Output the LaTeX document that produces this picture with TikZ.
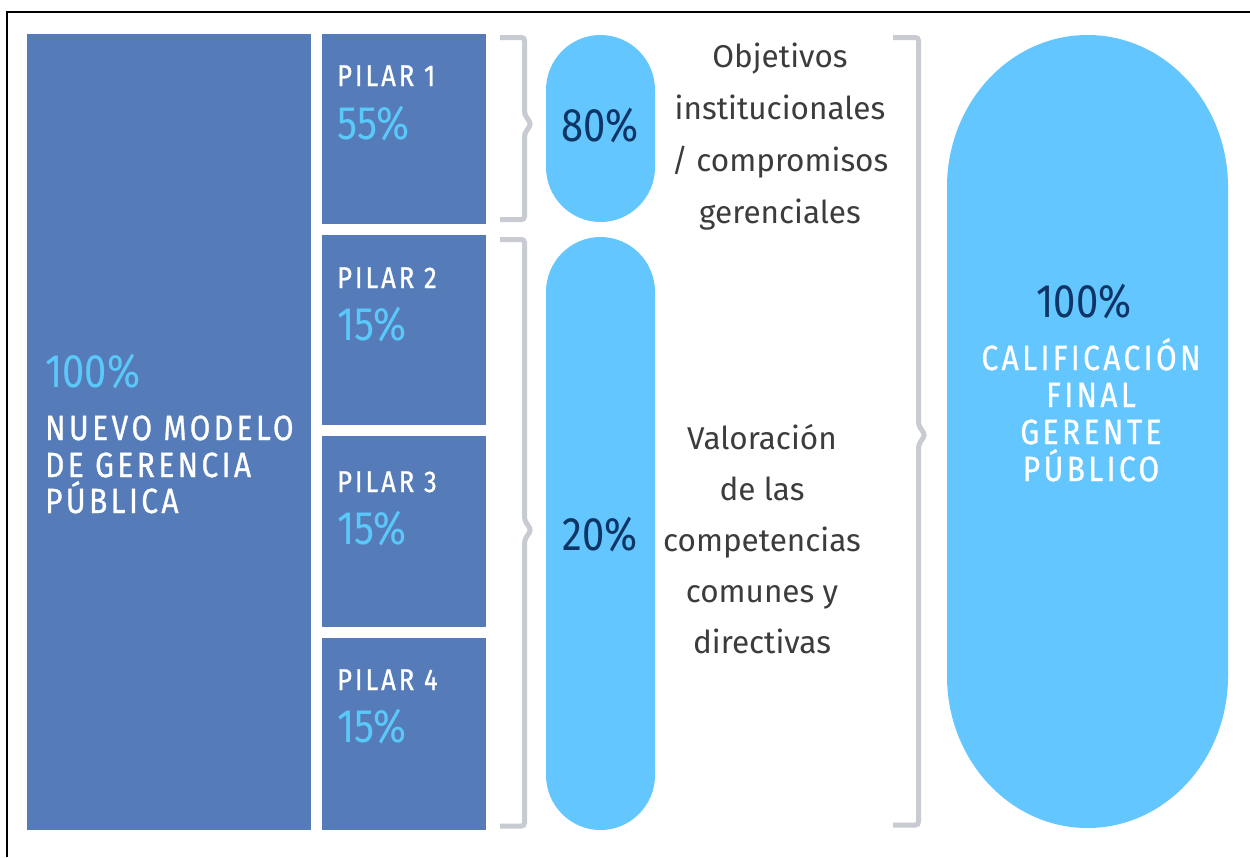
\documentclass[tikz,border=0pt]{standalone}
\usepackage{fontspec}
\setmainfont{Fira Sans}
\newfontfamily\capsf[FakeStretch=0.85,LetterSpace=10,FakeBold=0.9]{Fira Sans}
\newfontfamily\numsf[FakeStretch=0.85]{Fira Sans}
\newfontfamily\bodysf{Fira Sans}
\definecolor{boxblue}{HTML}{557CB8}
\definecolor{pillblue}{HTML}{63C6FF}
\definecolor{lightblue}{HTML}{5BC8FA}
\definecolor{navy}{HTML}{0E3566}
\definecolor{bracegray}{HTML}{C8CBD1}
\definecolor{bodygray}{HTML}{3C3C3C}
\tikzset{
  box/.style={fill=boxblue, draw=none, inner sep=0pt, outer sep=0pt, anchor=north west},
  pill/.style={fill=pillblue, draw=none},
  brace/.style={draw=bracegray, line width=5pt, rounded corners=3pt},
  bigcaps/.style={font=\capsf\fontsize{35}{37}\selectfont, text=white, inner sep=0pt},
  pilarcaps/.style={font=\capsf\fontsize{30}{32}\selectfont, text=white, inner sep=0pt, anchor=base west},
  boxnum/.style={font=\numsf\fontsize{47}{49}\selectfont, text=lightblue, inner sep=0pt, anchor=base west},
  pillnum/.style={font=\numsf\fontsize{47}{49}\selectfont, text=navy, inner sep=0pt, anchor=base},
  body/.style={font=\bodysf\fontsize{31.5}{34}\selectfont, text=bodygray, inner sep=0pt, anchor=base},
}
\begin{document}
\begin{tikzpicture}[x=1pt,y=-1pt]
\useasboundingbox (0,0) rectangle (1250,857);
\fill[white] (0,0) rectangle (1250,857);
% frame (top and left)
\draw[black, line width=2.5pt] (7,857) -- (7,12) -- (1250,12);

% left big box
\node[box, minimum width=284pt, minimum height=796pt] (nmgp) at (27,34) {};
\node[boxnum] (nmgpnum) at (45,387) {100\%};
\node[bigcaps, anchor=base west] (nm1) at (45,440) {NUEVO MODELO};
\node[bigcaps, anchor=base west] (nm2) at (45,477) {DE GERENCIA};
\node[bigcaps, anchor=base west] (nm3) at (45,513) {PÚBLICA};

% pilar boxes
\node[box, minimum width=164pt, minimum height=190pt] (p1) at (322,34) {};
\node[box, minimum width=164pt, minimum height=190pt] (p2) at (322,235) {};
\node[box, minimum width=164pt, minimum height=191pt] (p3) at (322,436) {};
\node[box, minimum width=164pt, minimum height=192pt] (p4) at (322,638) {};
\node[pilarcaps] (p1t) at (337,86) {PILAR 1};
\node[boxnum] (p1n) at (337,139) {55\%};
\node[pilarcaps] (p2t) at (337,288) {PILAR 2};
\node[boxnum] (p2n) at (337,340) {15\%};
\node[pilarcaps] (p3t) at (337,492) {PILAR 3};
\node[boxnum] (p3n) at (337,544) {15\%};
\node[pilarcaps] (p4t) at (337,690) {PILAR 4};
\node[boxnum] (p4n) at (337,742) {15\%};

% braces
\draw[brace] (500,37.5) -- (524.5,37.5) -- (524.5,114) -- (531,124) -- (524.5,134) -- (524.5,219.5) -- (500,219.5);
\draw[brace] (500,239.5) -- (524.5,239.5) -- (524.5,520) -- (531,530) -- (524.5,540) -- (524.5,826) -- (500,826);
\draw[brace] (893,37.5) -- (918.5,37.5) -- (918.5,425) -- (925,435) -- (918.5,445) -- (918.5,825) -- (893,825);

% pills
\fill[pill] (546,90) -- (546,167) arc[start angle=180,end angle=0,x radius=54.5,y radius=55] -- (655,90) arc[start angle=0,end angle=-180,x radius=54.5,y radius=55] -- cycle;
\fill[pill] (546,292) -- (546,775) arc[start angle=180,end angle=0,x radius=54.5,y radius=55] -- (655,292) arc[start angle=0,end angle=-180,x radius=54.5,y radius=55] -- cycle;
\fill[pill] (947,187) -- (947,676) arc[start angle=180,end angle=0,x radius=140.5,y radius=152] -- (1228,187) arc[start angle=0,end angle=-180,x radius=140.5,y radius=152] -- cycle;

\node[pillnum] (n80) at (600,141) {80\%};
\node[pillnum] (n20) at (600,550) {20\%};
\node[pillnum] (n100) at (1084,317) {100\%};
\node[bigcaps, anchor=base] (c1) at (1091,370) {CALIFICACIÓN};
\node[bigcaps, anchor=base] (c2) at (1091,407) {FINAL};
\node[bigcaps, anchor=base] (c3) at (1091,444) {GERENTE};
\node[bigcaps, anchor=base] (c4) at (1091,481) {PÚBLICO};

% descriptive texts
\node[body] (o1) at (780,67) {Objetivos};
\node[body] (o2) at (780,119) {institucionales};
\node[body] (o3) at (780,171) {/ compromisos};
\node[body] (o4) at (780,223) {gerenciales};
\node[body] (v1) at (762,449) {Valoración};
\node[body] (v2) at (762,500) {de las};
\node[body] (v3) at (762,551) {competencias};
\node[body] (v4) at (762,602) {comunes y};
\node[body] (v5) at (762,653) {directivas};
\end{tikzpicture}
\end{document}
